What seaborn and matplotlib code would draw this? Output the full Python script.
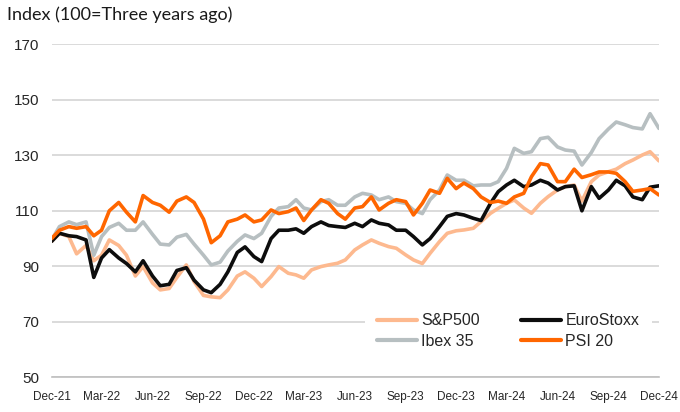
import pandas as pd
import seaborn as sns
import matplotlib.pyplot as plt
import matplotlib.dates as mdates

# Semi-monthly readings, Dec-21 .. Dec-24 (index, 100 = three years ago)
dates = pd.date_range("2021-12-01", "2024-12-01", freq="SMS")

sp500 = [99, 101.9, 100.7, 94.5, 97.5, 92, 94, 99.5, 97.5, 94,
         86.5, 89.9, 84, 81.5, 82, 86, 90.5, 84.5, 79.5, 79,
         78.7, 81.5, 86.5, 88, 85.7, 82.7, 86.3, 89.9, 87.5, 86.9,
         85.7, 88.7, 89.9, 90.5, 91.1, 92.3, 95.9, 97.7, 99.5, 98.3,
         97.1, 96.5, 94.1, 92.3, 91, 94.7, 98.9, 101.9, 102.8, 103.1,
         103.7, 106.1, 109.1, 110.9, 112.7, 113.9, 111, 109.1, 112.7, 115.1,
         117.5, 118.7, 119.3, 113.5, 120.5, 122.9, 124.1, 125, 127, 128.3,
         130.1, 131.3, 128]
ibex35 = [99.5, 104.3, 106, 105, 106, 94, 100.7, 104, 105.5, 103,
          103, 106, 101.5, 98, 97.7, 100.5, 101.5, 98, 94, 90.5,
          91.5, 95.5, 99, 101.3, 100, 101.9, 108, 111, 111.5, 114,
          111, 110.3, 113.3, 114, 112, 112, 115, 116.3, 115.7, 114,
          115, 113.3, 112.7, 110.3, 109, 114, 117.5, 122.9, 121, 121,
          119, 119.3, 119.3, 120.5, 125.3, 132.5, 130.7, 131.3, 136, 136.5,
          133, 131.9, 131.5, 126.5, 131, 136, 139.5, 142, 141, 140,
          139.5, 145, 139.7]
eurostoxx = [99, 101.9, 101, 100.7, 99.5, 86, 93, 96, 93, 91,
             88, 92, 86.5, 83, 83.5, 88.5, 89.5, 85, 81.5, 80.5,
             83.5, 88, 95, 97, 93.5, 91.7, 100, 103, 103, 103.5,
             101.9, 104.3, 106, 104.7, 104.3, 104, 105.5, 104.3, 106.7, 105.5,
             104.9, 103, 103, 100.7, 97.7, 100, 104.3, 108, 109, 108.5,
             107.3, 106.5, 112.7, 116.9, 119.3, 121, 118.7, 119.3, 121, 120,
             117.5, 118.7, 119, 110, 118.7, 114.5, 117.5, 121, 119, 115,
             114, 118.5, 119]
psi20 = [100, 103, 104.3, 103.7, 104.3, 101, 103, 110, 113, 109.5,
         106, 115.5, 113, 112, 109.5, 113.5, 115, 113, 107, 98.5,
         101, 106, 107, 108.5, 106, 106.7, 110.3, 109, 109.7, 111,
         106.5, 110.3, 114, 112.7, 109, 107, 111, 111.5, 115, 110.3,
         112.7, 114, 113.3, 108.5, 112.7, 117.5, 116.3, 121.7, 118, 120,
         118, 115, 113, 113.5, 112.7, 115, 116.3, 122.3, 127, 126.5,
         120.5, 120.5, 125, 122, 123, 124, 124, 123.5, 120.5, 117,
         117.5, 118, 115.7]

names = ["S&P500", "Ibex 35", "EuroStoxx", "PSI 20"]
colors = {"S&P500": "#FDB98F", "Ibex 35": "#B7BFC1",
          "EuroStoxx": "#0D0D0D", "PSI 20": "#FF6600"}

df = pd.DataFrame({"Date": dates, "S&P500": sp500, "Ibex 35": ibex35,
                   "EuroStoxx": eurostoxx, "PSI 20": psi20})
df_long = df.melt(id_vars="Date", var_name="Series", value_name="Index")

sns.set_style("white")
plt.rcParams['font.family'] = ['Liberation Sans', 'DejaVu Sans']

fig = plt.figure(figsize=(6.8, 4.12), dpi=100)
ax = fig.add_axes([0.076, 0.0842, 0.893, 0.8083])

sns.lineplot(data=df_long, x="Date", y="Index", hue="Series", hue_order=names,
             palette=colors, linewidth=2.6, ax=ax)

ax.set_ylim(50, 170)
ax.set_yticks(range(50, 171, 20))
ax.set_xlim(dates[0], dates[-1])
ax.xaxis.set_major_locator(mdates.MonthLocator(bymonth=[3, 6, 9, 12], bymonthday=1))
ax.xaxis.set_major_formatter(mdates.DateFormatter("%b-%y"))

ax.grid(axis="y", color="#D4D4D4", linewidth=1.2)
ax.set_axisbelow(True)
for side in ["left", "right", "top"]:
    ax.spines[side].set_visible(False)
ax.spines["bottom"].set_color("#BFBFBF")
ax.spines["bottom"].set_linewidth(1.2)

ax.tick_params(axis="y", length=0, pad=9, labelsize=11, labelcolor="#262626")
ax.tick_params(axis="x", direction="in", length=4, width=1, color="#BFBFBF",
               pad=10, labelsize=8.5, labelcolor="#262626")
ax.set_xlabel("")
ax.set_ylabel("")

fig.text(0.010, 0.965, "Index (100=Three years ago)", fontsize=13,
         family=["Lato", "DejaVu Sans"], va="center", ha="left", color="#1a1a1a")

leg = ax.legend(ncol=2, loc="center", bbox_to_anchor=(0.752, 0.139),
                fontsize=11.5, frameon=True, facecolor="white", edgecolor="none",
                framealpha=1, borderpad=0.8, handlelength=2.45, handletextpad=0.3,
                columnspacing=2.6, labelspacing=0.33, fancybox=False)
for line in leg.get_lines():
    line.set_linewidth(3)
for t in leg.get_texts():
    t.set_color("#262626")

fig.savefig("out.png", dpi=100)
